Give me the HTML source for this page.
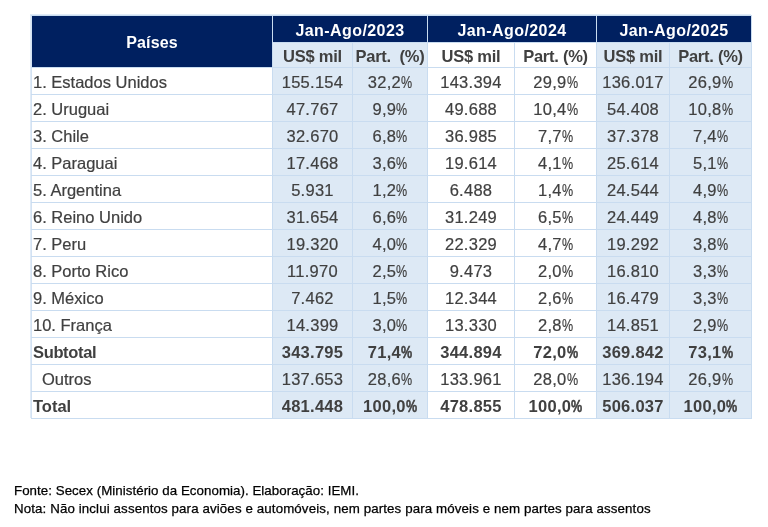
<!DOCTYPE html>
<html lang="pt">
<head>
<meta charset="utf-8">
<title>Tabela</title>
<style>
html,body{margin:0;padding:0;background:#fff;}
body{width:768px;height:527px;position:relative;overflow:hidden;font-family:"Liberation Sans",sans-serif;color:#404040;}
table{position:absolute;left:31px;top:15px;border-collapse:collapse;table-layout:fixed;width:720px;box-shadow:-1px -1px 0 0 #e0ebf7;}
td,th{border:1px solid #c9dcf0;padding:0;height:26px;font-size:16.5px;font-weight:normal;text-align:center;white-space:nowrap;overflow:hidden;line-height:26px;}
th.h{background:#002060;color:#fff;font-weight:bold;font-size:16px;letter-spacing:.42px;}
th.s{font-weight:bold;height:24px;line-height:24px;letter-spacing:-.25px;}
.b{background:#dde9f5;}
td.n{text-align:left;padding-left:1px;border-left-color:#d3e2f3;}
th.hp{border-left-color:#d3e2f3;}
tr.r28 td{height:27px;line-height:27px;}
td.d{letter-spacing:.27px;}
tr.t td{font-weight:bold;}
td{-webkit-text-stroke:.2px #404040;}
tr.t td{-webkit-text-stroke:0;}
tr.t .p i{-webkit-text-stroke:.5px #404040;}
.x{display:inline-block;transform:translateY(1px);}
th.h .x{transform:translateY(2px);}
th.s .x{transform:translateY(1px);}
th.hp{letter-spacing:.14px;}
th.hp .x{transform:translateY(1px);}
.p{display:inline-block;width:11.2px;}
.p i{display:inline-block;font-style:normal;transform:scaleX(.76);transform-origin:0 50%;}
.foot{position:absolute;left:14px;font-size:13.3px;line-height:18px;color:#000;white-space:nowrap;-webkit-text-stroke:.25px #000;}
</style>
</head>
<body>
<table>
<colgroup><col style="width:241px"><col style="width:80px"><col style="width:75px"><col style="width:87px"><col style="width:82px"><col style="width:73px"><col style="width:82px"></colgroup>
<tr><th class="h hp" rowspan="2"><span class="x">Países</span></th><th class="h" colspan="2"><span class="x">Jan-Ago/2023</span></th><th class="h" colspan="2"><span class="x">Jan-Ago/2024</span></th><th class="h" colspan="2"><span class="x">Jan-Ago/2025</span></th></tr>
<tr><th class="s b"><span class="x">US$ mil</span></th><th class="s b"><span class="x">Part.&nbsp; (%)</span></th><th class="s"><span class="x">US$ mil</span></th><th class="s"><span class="x">Part. (%)</span></th><th class="s b"><span class="x">US$ mil</span></th><th class="s b"><span class="x">Part. (%)</span></th></tr>
<tr><td class="n"><span class="x">1. Estados Unidos</span></td><td class="d b"><span class="x">155.154</span></td><td class="d b"><span class="x">32,2<span class="p"><i>%</i></span></span></td><td class="d"><span class="x">143.394</span></td><td class="d"><span class="x">29,9<span class="p"><i>%</i></span></span></td><td class="d b"><span class="x">136.017</span></td><td class="d b"><span class="x">26,9<span class="p"><i>%</i></span></span></td></tr>
<tr><td class="n"><span class="x">2. Uruguai</span></td><td class="d b"><span class="x">47.767</span></td><td class="d b"><span class="x">9,9<span class="p"><i>%</i></span></span></td><td class="d"><span class="x">49.688</span></td><td class="d"><span class="x">10,4<span class="p"><i>%</i></span></span></td><td class="d b"><span class="x">54.408</span></td><td class="d b"><span class="x">10,8<span class="p"><i>%</i></span></span></td></tr>
<tr><td class="n"><span class="x">3. Chile</span></td><td class="d b"><span class="x">32.670</span></td><td class="d b"><span class="x">6,8<span class="p"><i>%</i></span></span></td><td class="d"><span class="x">36.985</span></td><td class="d"><span class="x">7,7<span class="p"><i>%</i></span></span></td><td class="d b"><span class="x">37.378</span></td><td class="d b"><span class="x">7,4<span class="p"><i>%</i></span></span></td></tr>
<tr><td class="n"><span class="x">4. Paraguai</span></td><td class="d b"><span class="x">17.468</span></td><td class="d b"><span class="x">3,6<span class="p"><i>%</i></span></span></td><td class="d"><span class="x">19.614</span></td><td class="d"><span class="x">4,1<span class="p"><i>%</i></span></span></td><td class="d b"><span class="x">25.614</span></td><td class="d b"><span class="x">5,1<span class="p"><i>%</i></span></span></td></tr>
<tr><td class="n"><span class="x">5. Argentina</span></td><td class="d b"><span class="x">5.931</span></td><td class="d b"><span class="x">1,2<span class="p"><i>%</i></span></span></td><td class="d"><span class="x">6.488</span></td><td class="d"><span class="x">1,4<span class="p"><i>%</i></span></span></td><td class="d b"><span class="x">24.544</span></td><td class="d b"><span class="x">4,9<span class="p"><i>%</i></span></span></td></tr>
<tr><td class="n"><span class="x">6. Reino Unido</span></td><td class="d b"><span class="x">31.654</span></td><td class="d b"><span class="x">6,6<span class="p"><i>%</i></span></span></td><td class="d"><span class="x">31.249</span></td><td class="d"><span class="x">6,5<span class="p"><i>%</i></span></span></td><td class="d b"><span class="x">24.449</span></td><td class="d b"><span class="x">4,8<span class="p"><i>%</i></span></span></td></tr>
<tr><td class="n"><span class="x">7. Peru</span></td><td class="d b"><span class="x">19.320</span></td><td class="d b"><span class="x">4,0<span class="p"><i>%</i></span></span></td><td class="d"><span class="x">22.329</span></td><td class="d"><span class="x">4,7<span class="p"><i>%</i></span></span></td><td class="d b"><span class="x">19.292</span></td><td class="d b"><span class="x">3,8<span class="p"><i>%</i></span></span></td></tr>
<tr><td class="n"><span class="x">8. Porto Rico</span></td><td class="d b"><span class="x">11.970</span></td><td class="d b"><span class="x">2,5<span class="p"><i>%</i></span></span></td><td class="d"><span class="x">9.473</span></td><td class="d"><span class="x">2,0<span class="p"><i>%</i></span></span></td><td class="d b"><span class="x">16.810</span></td><td class="d b"><span class="x">3,3<span class="p"><i>%</i></span></span></td></tr>
<tr><td class="n"><span class="x">9. México</span></td><td class="d b"><span class="x">7.462</span></td><td class="d b"><span class="x">1,5<span class="p"><i>%</i></span></span></td><td class="d"><span class="x">12.344</span></td><td class="d"><span class="x">2,6<span class="p"><i>%</i></span></span></td><td class="d b"><span class="x">16.479</span></td><td class="d b"><span class="x">3,3<span class="p"><i>%</i></span></span></td></tr>
<tr><td class="n"><span class="x">10. França</span></td><td class="d b"><span class="x">14.399</span></td><td class="d b"><span class="x">3,0<span class="p"><i>%</i></span></span></td><td class="d"><span class="x">13.330</span></td><td class="d"><span class="x">2,8<span class="p"><i>%</i></span></span></td><td class="d b"><span class="x">14.851</span></td><td class="d b"><span class="x">2,9<span class="p"><i>%</i></span></span></td></tr>
<tr class="t"><td class="n" style="letter-spacing:-.35px"><span class="x">Subtotal</span></td><td class="d b"><span class="x">343.795</span></td><td class="d b"><span class="x">71,4<span class="p"><i>%</i></span></span></td><td class="d"><span class="x">344.894</span></td><td class="d"><span class="x">72,0<span class="p"><i>%</i></span></span></td><td class="d b"><span class="x">369.842</span></td><td class="d b"><span class="x">73,1<span class="p"><i>%</i></span></span></td></tr>
<tr><td class="n" style="padding-left:10px"><span class="x">Outros</span></td><td class="d b"><span class="x">137.653</span></td><td class="d b"><span class="x">28,6<span class="p"><i>%</i></span></span></td><td class="d"><span class="x">133.961</span></td><td class="d"><span class="x">28,0<span class="p"><i>%</i></span></span></td><td class="d b"><span class="x">136.194</span></td><td class="d b"><span class="x">26,9<span class="p"><i>%</i></span></span></td></tr>
<tr class="t"><td class="n"><span class="x">Total</span></td><td class="d b"><span class="x">481.448</span></td><td class="d b"><span class="x">100,0<span class="p"><i>%</i></span></span></td><td class="d"><span class="x">478.855</span></td><td class="d"><span class="x">100,0<span class="p"><i>%</i></span></span></td><td class="d b"><span class="x">506.037</span></td><td class="d b"><span class="x">100,0<span class="p"><i>%</i></span></span></td></tr>
</table>
<div class="foot" style="top:482px;letter-spacing:.05px">Fonte: Secex (Ministério da Economia). Elaboração: IEMI.</div>
<div class="foot" style="top:500px;letter-spacing:.12px">Nota: Não inclui assentos para aviões e automóveis, nem partes para móveis e nem partes para assentos</div>
</body>
</html>
